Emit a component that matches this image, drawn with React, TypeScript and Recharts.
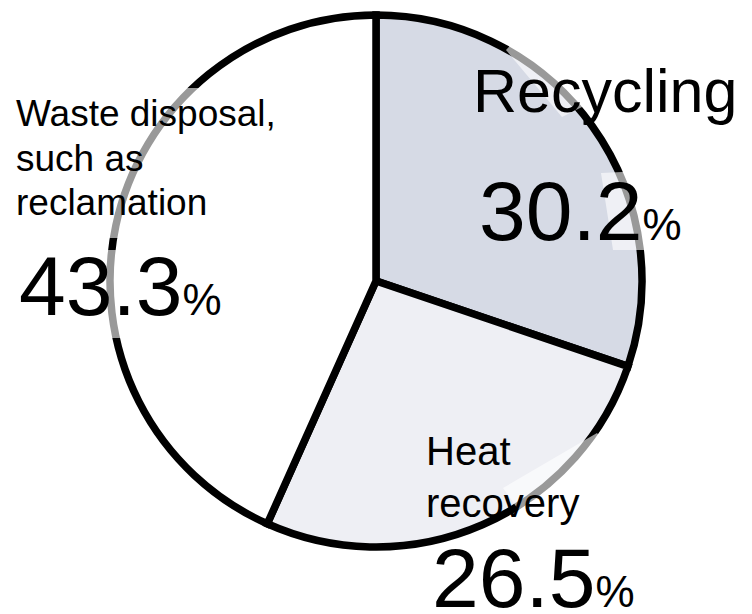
import React from "react";
import { PieChart, Pie, Cell } from "recharts";

const categories = ["Recycling", "Heat recovery", "Waste disposal, such as reclamation"];
const shares = [30.2, 26.5, 43.3];
const colors = ["#D6DAE5", "#EEEFF4", "#FFFFFF"];

const data = categories.map((name, i) => ({ name, value: shares[i] }));

const W = 752;
const H = 614;
const FONT = "'Liberation Sans', Arial, Helvetica, sans-serif";

const labelLayout = [
  { x: 473, lines: [112], nameSize: 61, lineText: ["Recycling"], vx: 479, vy: 240 },
  { x: 426, lines: [465, 517], nameSize: 40, lineText: ["Heat", "recovery"], vx: 432, vy: 607 },
  {
    x: 16,
    lines: [126, 171, 215],
    nameSize: 37,
    lineText: ["Waste disposal,", "such as", "reclamation"],
    vx: 19,
    vy: 315,
  },
];

const veils = [
  "10,88 290,88 290,238 10,238",
  "10,250 240,250 240,338 10,338",
  "506,50 532,22 612,92 562,117",
  "601,173 665,170 665,250 613,250",
  "503,488 597,433 650,500 540,540",
];

export default function App() {
  return (
    <div style={{ position: "absolute", left: 0, top: 0, width: W, height: H, background: "#fff" }}>
      <PieChart width={W} height={H} margin={{ top: 0, right: 0, bottom: 0, left: 0 }}>
        <Pie
          data={data}
          dataKey="value"
          nameKey="name"
          cx={376}
          cy={281}
          outerRadius={266}
          startAngle={90}
          endAngle={-270}
          stroke="#000"
          strokeWidth={7.5}
          isAnimationActive={false}
          label={false}
          labelLine={false}
        >
          {data.map((d, i) => (
            <Cell key={d.name} fill={colors[i]} stroke="#000" strokeWidth={7.5} />
          ))}
        </Pie>
      </PieChart>
      <svg
        width={W}
        height={H}
        style={{ position: "absolute", left: 0, top: 0, pointerEvents: "none" }}
      >
        {veils.map((p, i) => (
          <polygon key={i} points={p} fill="#fff" fillOpacity={0.6} />
        ))}
        {labelLayout.map((l, i) => (
          <g key={categories[i]} fontFamily={FONT} fill="#000">
            {l.lines.map((y, j) => (
              <text key={j} x={l.x} y={y} fontSize={l.nameSize}>
                {l.lineText[j]}
              </text>
            ))}
            <text x={l.vx} y={l.vy} fontSize={84}>
              {shares[i].toFixed(1)}
              <tspan fontSize={44}>%</tspan>
            </text>
          </g>
        ))}
      </svg>
    </div>
  );
}
